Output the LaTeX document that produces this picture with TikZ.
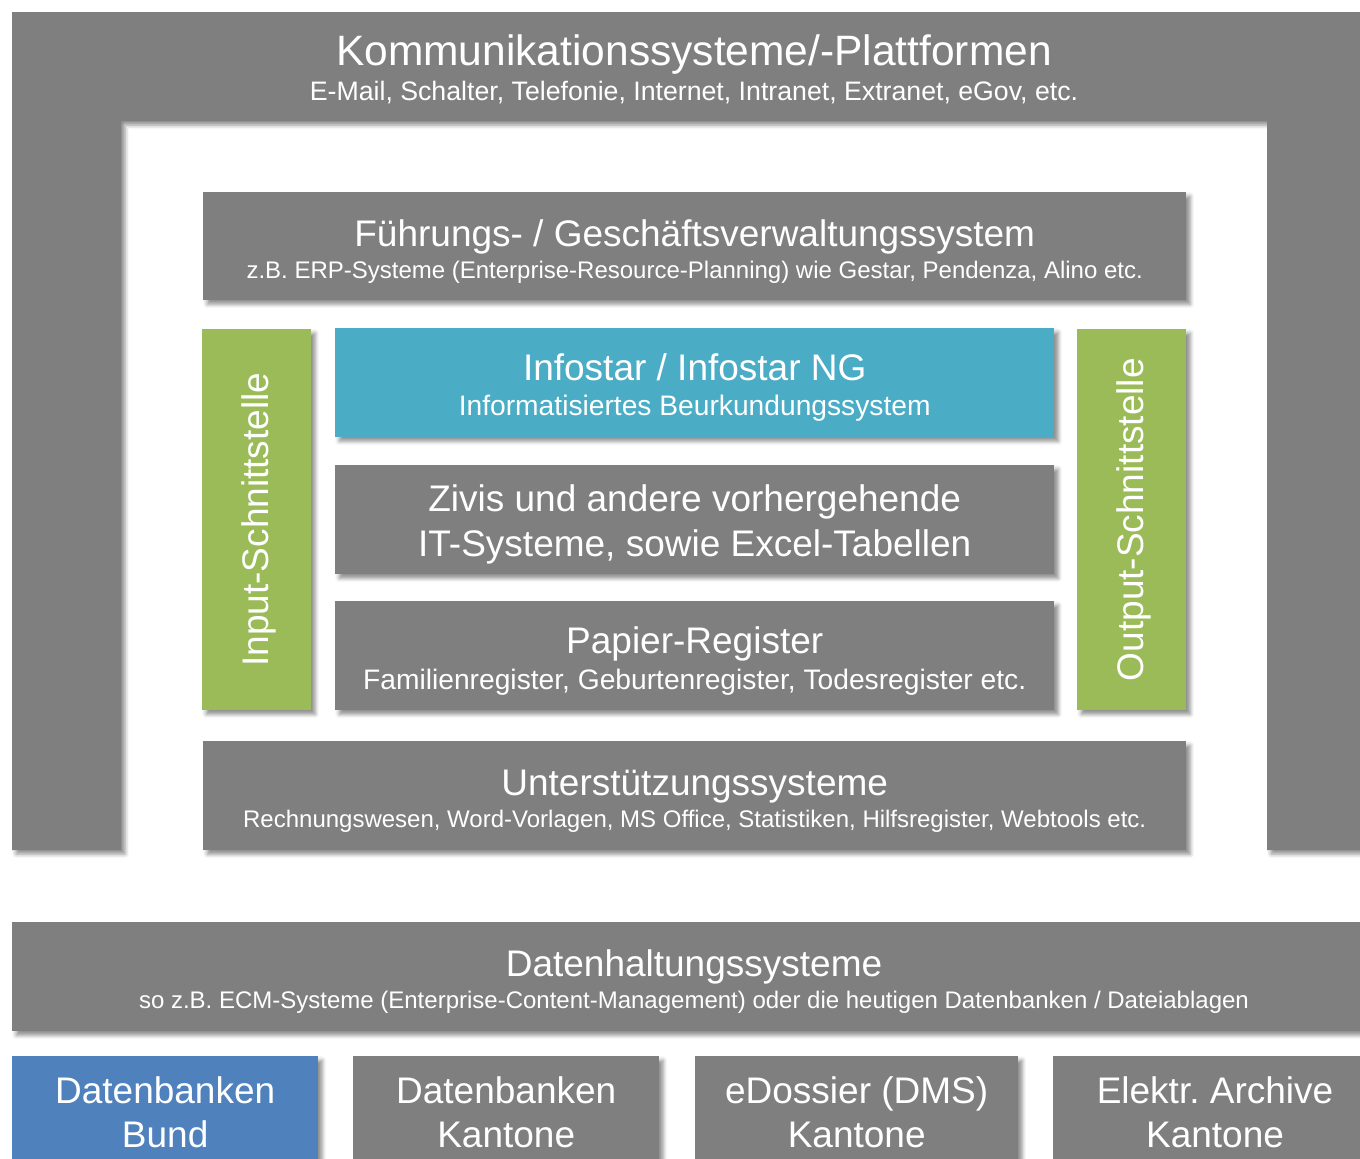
\documentclass[tikz,border=0pt]{standalone}
\usepackage{fontspec}
\setmainfont{Liberation Sans}
\usetikzlibrary{shadows.blur}
\definecolor{gbox}{HTML}{7F7F7F}
\definecolor{ggreen}{HTML}{9BBB59}
\definecolor{gcyan}{HTML}{4BACC6}
\definecolor{gblue}{HTML}{4F81BD}
\frenchspacing
\tikzset{
  shd/.style={blur shadow={shadow xshift=4pt, shadow yshift=-4pt, shadow blur radius=4pt, shadow opacity=45}},
  box/.style={fill=gbox, draw=none, inner sep=0pt, anchor=north west, shd},
  big/.style={text=white, inner sep=0pt, anchor=base, font=\fontsize{42.5}{46}\selectfont},
  ttl/.style={text=white, inner sep=0pt, anchor=base, font=\fontsize{37}{40}\selectfont},
  subl/.style={text=white, inner sep=0pt, anchor=base, font=\fontsize{28.2}{30}\selectfont},
  subt/.style={text=white, inner sep=0pt, anchor=base, font=\fontsize{26.7}{30}\selectfont},
  sub/.style={text=white, inner sep=0pt, anchor=base, font=\fontsize{24}{26}\selectfont},
}
\begin{document}
\begin{tikzpicture}[x=1pt,y=-1pt]
\useasboundingbox (0,0) rectangle (1360,1159);
% outer frame
\path[fill=gbox, shd] (12,12) -- (1360,12) -- (1360,850) -- (1267,850) -- (1267,121) -- (121,121) -- (121,850) -- (12,850) -- cycle;
\node[big] (komT) at (694,65) {Kommunikationssysteme/-Plattformen};
\node[subt] (komS) at (694,100) {E-Mail, Schalter, Telefonie, Internet, Intranet, Extranet, eGov, etc.};
% Fuehrung
\node[box, minimum width=983, minimum height=108] (fue) at (203,192) {};
\node[ttl] (fueT) at (fue.center |- 0,246) {Führungs- / Geschäftsverwaltungssystem};
\node[sub] (fueS) at (fue.center |- 0,278) {z.B. ERP-Systeme (Enterprise-Resource-Planning) wie Gestar, Pendenza, Alino etc.};
% Input / Output
\node[box, fill=ggreen, minimum width=109, minimum height=381] (inp) at (202,329) {};
\node[ttl, anchor=center, rotate=90] (inpT) at ([xshift=2pt]inp.center) {Input-Schnittstelle};
\node[box, fill=ggreen, minimum width=109, minimum height=381] (outp) at (1077,329) {};
\node[ttl, anchor=center, rotate=90] (outpT) at ([xshift=2pt]outp.center) {Output-Schnittstelle};
% Infostar
\node[box, fill=gcyan, minimum width=719, minimum height=109] (info) at (335,328) {};
\node[ttl] (infoT) at (info.center |- 0,380) {Infostar / Infostar NG};
\node[subl] (infoS) at (info.center |- 0,415) {Informatisiertes Beurkundungssystem};
% Zivis
\node[box, minimum width=719, minimum height=109] (ziv) at (335,465) {};
\node[ttl] (zivA) at (ziv.center |- 0,511) {Zivis und andere vorhergehende};
\node[ttl] (zivB) at (ziv.center |- 0,556) {IT-Systeme, sowie Excel-Tabellen};
% Papier
\node[box, minimum width=719, minimum height=109] (pap) at (335,601) {};
\node[ttl] (papT) at (pap.center |- 0,653) {Papier-Register};
\node[subl] (papS) at (pap.center |- 0,689) {Familienregister, Geburtenregister, Todesregister etc.};
% Unterstuetzung
\node[box, minimum width=983, minimum height=109] (unt) at (203,741) {};
\node[ttl] (untT) at (unt.center |- 0,795) {Unterstützungssysteme};
\node[sub] (untS) at (unt.center |- 0,827) {Rechnungswesen, Word-Vorlagen, MS Office, Statistiken, Hilfsregister, Webtools etc.};
% Datenhaltung
\node[box, minimum width=1365, minimum height=109] (dat) at (12,922) {};
\node[ttl] (datT) at (694,976) {Datenhaltungssysteme};
\node[sub] (datS) at (694,1008) {so z.B. ECM-Systeme (Enterprise-Content-Management) oder die heutigen Datenbanken / Dateiablagen};
% bottom row
\node[box, fill=gblue, minimum width=306, minimum height=110] (b1) at (12,1056) {};
\node[ttl] (b1A) at (b1.center |- 0,1103) {Datenbanken};
\node[ttl] (b1B) at (b1.center |- 0,1147) {Bund};
\node[box, minimum width=306, minimum height=110] (b2) at (353,1056) {};
\node[ttl] (b2A) at (b2.center |- 0,1103) {Datenbanken};
\node[ttl] (b2B) at (b2.center |- 0,1147) {Kantone};
\node[box, minimum width=323, minimum height=110] (b3) at (695,1056) {};
\node[ttl] (b3A) at (b3.center |- 0,1103) {eDossier (DMS)};
\node[ttl] (b3B) at (b3.center |- 0,1147) {Kantone};
\node[box, minimum width=325, minimum height=110] (b4) at (1053,1056) {};
\node[ttl] (b4A) at (1215,1103) {Elektr. Archive};
\node[ttl] (b4B) at (1215,1147) {Kantone};
\end{tikzpicture}
\end{document}
